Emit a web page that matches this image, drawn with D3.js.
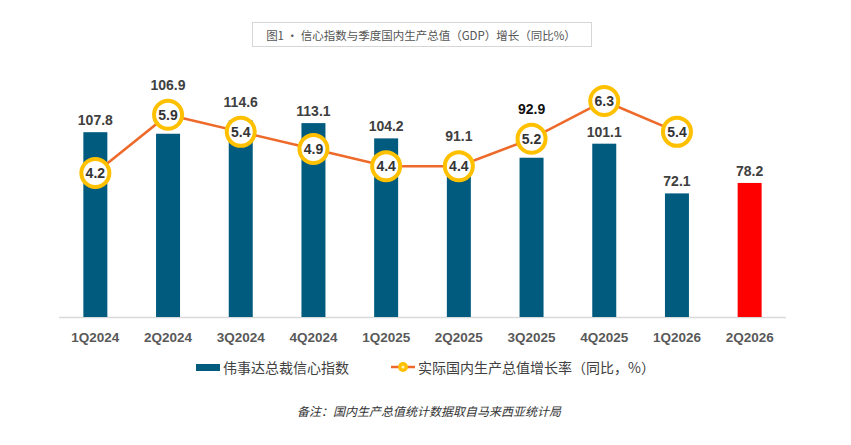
<!DOCTYPE html>
<html>
<head>
<meta charset="utf-8">
<script src="https://cdn.jsdelivr.net/npm/d3@7"></script>
<style>
  body { margin: 0; background: #fff; }
  svg { display: block; font-family: Arial, "Liberation Sans", "Noto Sans CJK SC", sans-serif; }
</style>
</head>
<body>
<script>
  // data
  var quarters = ['1Q2024', '2Q2024', '3Q2024', '4Q2024', '1Q2025',
                  '2Q2025', '3Q2025', '4Q2025', '1Q2026', '2Q2026'];
  var confidence = [107.8, 106.9, 114.6, 113.1, 104.2, 91.1, 92.9, 101.1, 72.1, 78.2];
  var gdp = [4.2, 5.9, 5.4, 4.9, 4.4, 4.4, 5.2, 6.3, 5.4];   // no value for 2Q2026

  (function() {
    'use strict';

    var w = 851, h = 445;
    var base = 317, plotTop = 77;
    var blue = '#005b7f', red = '#ff0000', orange = '#ee6a2a', gold = '#ffc000';

    var svg = d3.select('body').append('svg')
      .attr('width', w)
      .attr('height', h);

    // title box
    svg.append('rect')
      .attr('x', 252.5).attr('y', 22.5)
      .attr('width', 339).attr('height', 24)
      .attr('fill', '#fff')
      .attr('stroke', '#d6d6d6');
    svg.append('text')
      .attr('x', 421).attr('y', 35)
      .attr('text-anchor', 'middle')
      .attr('dominant-baseline', 'central')
      .attr('font-family', '"Noto Sans CJK SC", sans-serif')
      .attr('font-size', 11.5)
      .attr('fill', '#555')
      .text('图1 · 信心指数与季度国内生产总值（GDP）增长（同比%）');

    var x = d3.scaleBand()
      .domain(quarters)
      .range([59, 786])
      .paddingInner(0.67)
      .paddingOuter(0.335);

    var y = d3.scaleLinear().domain([0, 140]).range([base, plotTop]);
    var y2 = d3.scaleLinear().domain([0, 7]).range([base, plotTop]);

    // axis line
    svg.append('line')
      .attr('x1', 59).attr('x2', 786)
      .attr('y1', base + 0.5).attr('y2', base + 0.5)
      .attr('stroke', '#d9d9d9')
      .attr('stroke-width', 1.5);

    // bars
    svg.selectAll('rect.bar')
      .data(confidence)
      .enter()
      .append('rect')
      .attr('class', 'bar')
      .attr('x', function(d, i) { return x(quarters[i]); })
      .attr('y', function(d) { return y(d); })
      .attr('width', x.bandwidth())
      .attr('height', function(d) { return base - y(d); })
      .attr('fill', function(d, i) { return i === quarters.length - 1 ? red : blue; });

    // x tick labels
    svg.selectAll('text.tick')
      .data(quarters)
      .enter()
      .append('text')
      .attr('class', 'tick')
      .attr('x', function(d) { return x(d) + x.bandwidth() / 2; })
      .attr('y', 337)
      .attr('text-anchor', 'middle')
      .attr('dominant-baseline', 'central')
      .attr('font-size', 13.5)
      .attr('font-weight', 'bold')
      .attr('fill', '#595959')
      .text(function(d) { return d; });

    // GDP line
    var cx = function(i) { return x(quarters[i]) + x.bandwidth() / 2; };
    var line = d3.line()
      .x(function(d, i) { return cx(i); })
      .y(function(d) { return y2(d); });

    svg.append('path')
      .datum(gdp)
      .attr('d', line)
      .attr('fill', 'none')
      .attr('stroke', orange)
      .attr('stroke-width', 2.5);

    var r = 14;

    // bar value labels, lifted above a circle when they would collide
    svg.selectAll('text.val')
      .data(confidence)
      .enter()
      .append('text')
      .attr('class', 'val')
      .attr('x', function(d, i) { return cx(i); })
      .attr('y', function(d, i) {
        var ly = y(d) - 12;
        if (i < gdp.length) {
          var cy = y2(gdp[i]);
          if (Math.abs(ly - cy) < r + 10) ly = cy - r - 16;
        }
        return ly;
      })
      .attr('text-anchor', 'middle')
      .attr('dominant-baseline', 'central')
      .attr('font-size', 14)
      .attr('font-weight', 'bold')
      .attr('fill', function(d, i) { return i === 6 ? '#111' : '#404040'; })
      .text(function(d) { return d.toFixed(1); });

    // circles
    var dots = svg.selectAll('g.dot')
      .data(gdp)
      .enter()
      .append('g')
      .attr('class', 'dot')
      .attr('transform', function(d, i) { return 'translate(' + cx(i) + ',' + y2(d) + ')'; });

    dots.append('circle')
      .attr('r', r)
      .attr('fill', '#fff')
      .attr('stroke', gold)
      .attr('stroke-width', 4);

    dots.append('text')
      .attr('text-anchor', 'middle')
      .attr('dominant-baseline', 'central')
      .attr('font-size', 14)
      .attr('font-weight', 'bold')
      .attr('fill', '#333')
      .text(function(d) { return d.toFixed(1); });

    // legend
    var lg = svg.append('g')
      .attr('font-family', '"Noto Sans CJK SC", sans-serif')
      .attr('font-size', 14)
      .attr('fill', '#404040');

    lg.append('rect')
      .attr('x', 196).attr('y', 364)
      .attr('width', 24).attr('height', 7)
      .attr('fill', blue);
    lg.append('text')
      .attr('x', 223).attr('y', 367)
      .attr('dominant-baseline', 'central')
      .text('伟事达总裁信心指数');

    lg.append('line')
      .attr('x1', 391).attr('x2', 415)
      .attr('y1', 367).attr('y2', 367)
      .attr('stroke', orange)
      .attr('stroke-width', 2.5);
    lg.append('circle')
      .attr('cx', 403).attr('cy', 367)
      .attr('r', 5)
      .attr('fill', gold);
    lg.append('circle')
      .attr('cx', 403).attr('cy', 367)
      .attr('r', 1.5)
      .attr('fill', '#fff3c0');
    lg.append('text')
      .attr('x', 418).attr('y', 367)
      .attr('dominant-baseline', 'central')
      .text('实际国内生产总值增长率（同比，%）');

    // footnote
    svg.append('text')
      .attr('x', 429).attr('y', 410)
      .attr('text-anchor', 'middle')
      .attr('dominant-baseline', 'central')
      .attr('font-family', '"Noto Sans CJK SC", sans-serif')
      .attr('font-size', 12)
      .attr('font-style', 'italic')
      .attr('fill', '#333')
      .text('备注：国内生产总值统计数据取自马来西亚统计局');
  })();
</script>
</body>
</html>
